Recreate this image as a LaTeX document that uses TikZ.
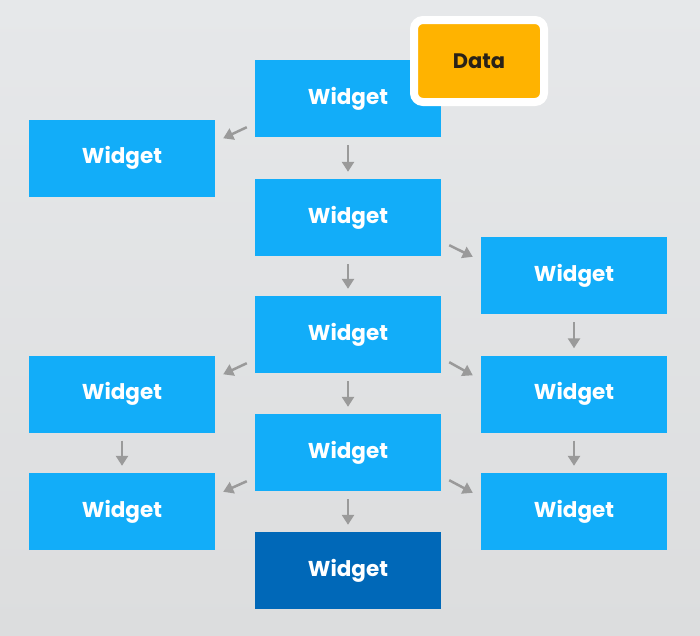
\documentclass[tikz,border=0pt]{standalone}
\usepackage{fontspec}
\setmainfont{Poppins}
\usetikzlibrary{arrows.meta,calc}
\definecolor{bgtop}{HTML}{E6E8EA}
\definecolor{bgbot}{HTML}{DCDDDE}
\definecolor{widgetblue}{HTML}{12ADF9}
\definecolor{widgetdark}{HTML}{0068B8}
\definecolor{dataamber}{HTML}{FFB300}
\definecolor{arrowgray}{HTML}{9A9A9A}
\definecolor{datatext}{HTML}{2A2218}
\tikzset{
  widget/.style={fill=widgetblue, minimum width=186pt, minimum height=77pt,
    inner sep=0pt, text=white, font=\fontsize{21.5}{26}\selectfont\bfseries},
  widgetfinal/.style={widget, fill=widgetdark},
  databox/.style={fill=dataamber, draw=white, line width=8pt, rounded corners=9pt,
    minimum width=130pt, minimum height=82pt, inner sep=0pt, text=datatext,
    font=\fontsize{21}{25}\selectfont\bfseries},
  flow/.style={draw=arrowgray, line width=2.5pt,
    -{Triangle[width=12pt,length=10pt]}},
}
\begin{document}
\begin{tikzpicture}[x=1pt,y=-1pt]
  % backdrop
  \shade[top color=bgtop, bottom color=bgbot] (0,0) rectangle (700,635);
  \useasboundingbox (0,0) rectangle (700,635);

  % centre column
  \node[widget] (c1) at (348,98.5) {Widget};
  \node[widget] (c2) at (348,217.5) {Widget};
  \node[widget] (c3) at (348,334.5) {Widget};
  \node[widget] (c4) at (348,452.5) {Widget};
  \node[widgetfinal] (c5) at (348,570.5) {Widget};

  % left column
  \node[widget] (l1) at (122,158) {Widget};
  \node[widget] (l2) at (122,394) {Widget};
  \node[widget] (l3) at (122,511.5) {Widget};

  % right column
  \node[widget] (r1) at (574,275.5) {Widget};
  \node[widget] (r2) at (574,394) {Widget};
  \node[widget] (r3) at (574,511.5) {Widget};

  % data source badge
  \node[databox] (data) at (479,61) {Data};

  % vertical links
  \foreach \a/\b in {c1/c2, c2/c3, c3/c4, c4/c5, l2/l3, r1/r2, r2/r3}
    \draw[flow, shorten <=8pt, shorten >=7pt] (\a.south) -- (\b.north);

  % diagonal links to the left
  \foreach \a/\b in {c1/l1, c3/l2, c4/l3}
    \draw[flow] ($(\a.south west)+(-8,-10)$) -- ($(\b.north east)+(8,19)$);

  % diagonal links to the right
  \foreach \a/\b in {c2/r1, c3/r2, c4/r3}
    \draw[flow] ($(\a.south east)+(8,-11)$) -- ($(\b.north west)+(-8,20)$);
\end{tikzpicture}
\end{document}
